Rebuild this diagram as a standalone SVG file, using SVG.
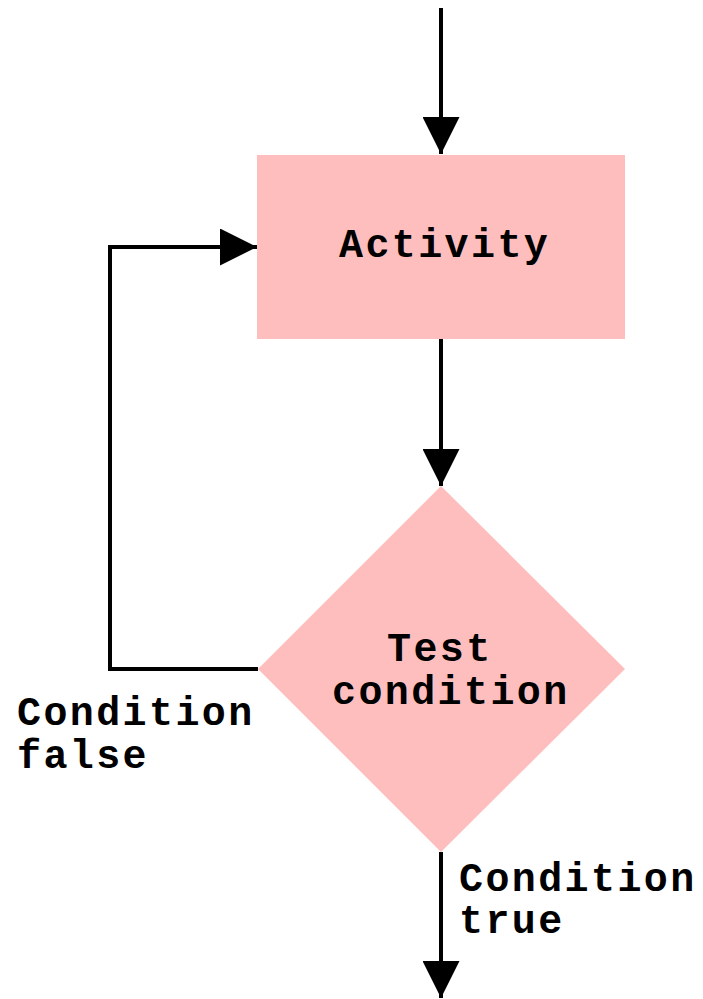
<svg xmlns="http://www.w3.org/2000/svg" width="703" height="999" viewBox="0 0 703 999">
  <style>
    .shape { fill: #ffbebe; stroke: none; }
    .label { font-family: "Liberation Mono", "Courier New", monospace; font-weight: bold; font-size: 40px; letter-spacing: 2.4px; fill: #000; }
    .wire { fill: none; stroke: #000; stroke-width: 4; }
  </style>
  <defs>
    <marker id="head" viewBox="0 0 37 37" refX="37" refY="18.5" markerWidth="37" markerHeight="37" markerUnits="userSpaceOnUse" orient="auto">
      <path d="M0,0 L37,18.5 L0,37 Z" fill="#000"/>
    </marker>
  </defs>

  <rect width="703" height="999" fill="#fff"/>

  <g id="connectors">
    <!-- entry into the activity -->
    <path class="wire" d="M441,8 V154" marker-end="url(#head)"/>
    <!-- activity to test -->
    <path class="wire" d="M441,339 V486" marker-end="url(#head)"/>
    <!-- loop back when false -->
    <path class="wire" d="M258,669 H110 V247 H257" marker-end="url(#head)"/>
    <!-- exit when true -->
    <path class="wire" d="M441,852 V998" marker-end="url(#head)"/>
  </g>

  <g id="activity">
    <rect class="shape" x="257" y="155" width="368" height="184"/>
    <text class="label" x="339" y="257">Activity</text>
  </g>

  <g id="test">
    <polygon class="shape" points="441,486 625,669 441,852 258,669"/>
    <text class="label" x="387" y="661">Test</text>
    <text class="label" x="332" y="704">condition</text>
  </g>

  <g id="false-label">
    <text class="label" x="17" y="725">Condition</text>
    <text class="label" x="17" y="768">false</text>
  </g>

  <g id="true-label">
    <text class="label" x="459" y="891">Condition</text>
    <text class="label" x="459" y="933">true</text>
  </g>
</svg>
